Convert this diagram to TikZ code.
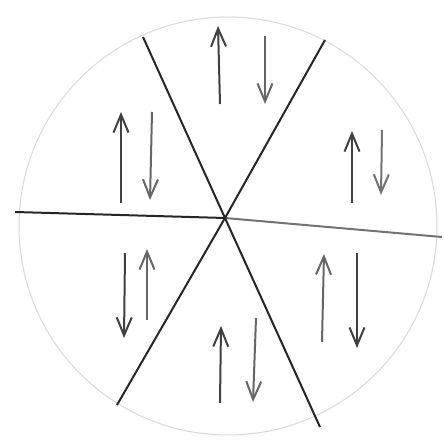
\documentclass[tikz,border=0pt]{standalone}
\usepackage{tikz}
\usetikzlibrary{arrows.meta}

\begin{document}
\begin{tikzpicture}[x=1pt, y=-1pt,
    axis/.style={line width=2pt, draw=black!85},
    spin/.style={line width=2pt, draw=black!75, -{Straight Barb[length=18pt, width=15pt]}}
]
\useasboundingbox (0,0) rectangle (445,441);
\fill[white] (0,0) rectangle (445,441);

% faint outer circle
\draw[black!15, line width=1pt] (228,226) circle (209);

% the three lines through the centre
\coordinate (c) at (225,218);
\draw[axis] (15,212) -- (c);
\draw[axis, draw=black!55] (c) -- (442,237);
\draw[axis] (143,37) -- (c) -- (320,427);
\draw[axis] (325,40) -- (c) -- (117,405);

% spin pairs, one pair per sector
\draw[spin] (220,104) -- (218,26);
\draw[spin, draw=black!60] (265,36) -- (265,104);

\draw[spin] (121,203) -- (121,112);
\draw[spin, draw=black!60] (152,112) -- (150,200);

\draw[spin] (352,203) -- (352,131);
\draw[spin, draw=black!55] (382,130) -- (381,195);

\draw[spin] (125,253) -- (124,338);
\draw[spin, draw=black!60] (147,320) -- (147,249);

\draw[spin, draw=black!60] (322,342) -- (324,254);
\draw[spin] (357,253) -- (357,348);

\draw[spin] (220,403) -- (221,326);
\draw[spin, draw=black!60] (256,318) -- (253,402);
\end{tikzpicture}
\end{document}
